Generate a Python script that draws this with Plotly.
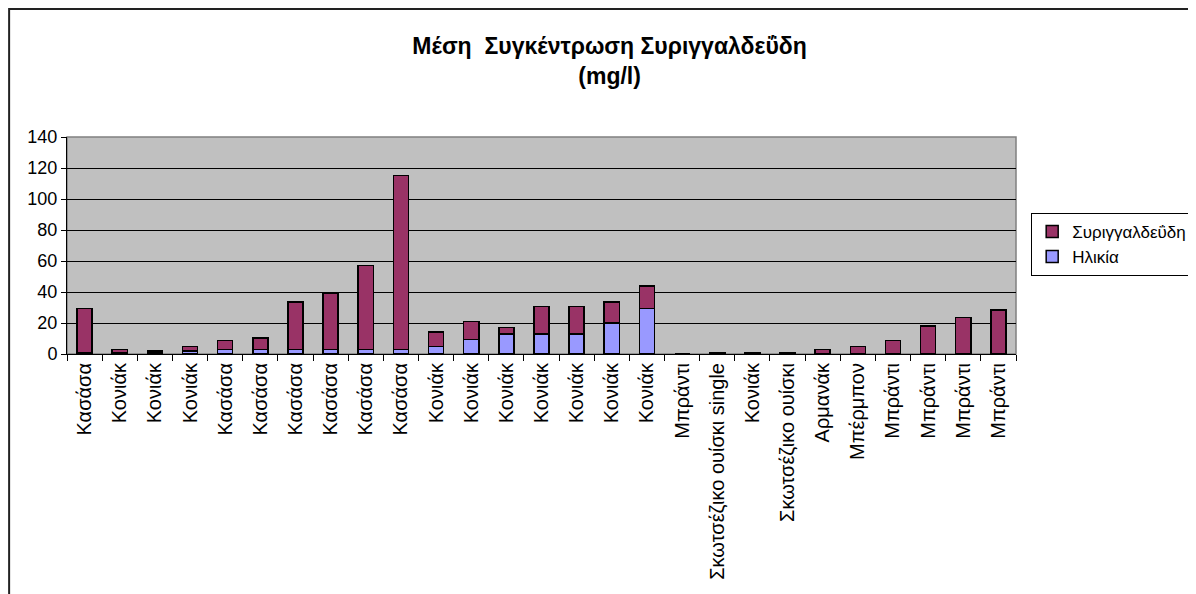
"""Μέση Συγκέντρωση Συριγγαλδεΰδη

Stacked bar chart (Excel style) of mean syringaldehyde
concentration per sample, with the age part at the bottom.
"""

import plotly.graph_objects as go

# sample types, one per bar (names repeat)
categories = ["Κασάσα", "Κονιάκ", "Κονιάκ", "Κονιάκ", "Κασάσα", "Κασάσα",
              "Κασάσα", "Κασάσα", "Κασάσα", "Κασάσα", "Κονιάκ", "Κονιάκ",
              "Κονιάκ", "Κονιάκ", "Κονιάκ", "Κονιάκ", "Κονιάκ", "Μπράντι",
              "Σκωτσέζικο ουίσκι single", "Κονιάκ", "Σκωτσέζικο ουίσκι",
              "Αρμανάκ", "Μπέρμπον", "Μπράντι", "Μπράντι", "Μπράντι",
              "Μπράντι"]

# values
age = [1, 0.5, 1, 2, 3, 3, 3, 3, 3, 3, 5, 9.5, 13, 13, 13, 20, 29.5,
       0, 0, 0, 0, 0, 0, 0, 0, 0, 0]
syringaldehyde = [28.5, 2.3, 0.8, 2.8, 5.6, 7.3, 30.4, 36, 54, 112.3, 9.2,
                  11.4, 4, 17.5, 17.5, 13.4, 14.5, 0, 0.8, 0.8, 0.8, 2.8,
                  4.7, 8.6, 18.1, 23.7, 28.4]

y_ticks = [0, 20, 40, 60, 80, 100, 120, 140]

positions = list(range(len(categories)))

fig = go.Figure()
fig.add_bar(x=positions, y=age, name="Ηλικία",
            marker=dict(color="#9999FF", line=dict(color="black", width=1.5)),
            width=0.43)
fig.add_bar(x=positions, y=syringaldehyde, name="Συριγγαλδεΰδη",
            marker=dict(color="#993366", line=dict(color="black", width=1.5)),
            width=0.43)

# page body has an 8px margin, so the figure starts at (8, 8)
fig.update_layout(
    barmode="stack",
    width=1196,
    height=594,
    margin={'l': 59, 'r': 186, 't': 129, 'b': 248},
    paper_bgcolor="white",
    plot_bgcolor="#C0C0C0",
    font=dict(family="Liberation Sans, Arial", size=18, color="black"),
    showlegend=True,
    legend=dict(
        x=1.016, y=0.65, xanchor="left", yanchor="top",
        bordercolor="black", borderwidth=1, bgcolor="white",
        font=dict(size=17), traceorder="reversed",
        itemwidth=30, tracegroupgap=0,
    ),
    title=dict(
        text="<b>Μέση  Συγκέντρωση Συριγγαλδεΰδη<br>(mg/l)</b>",
        x=0.503, xref="container", xanchor="center",
        y=0.923, yref="container", yanchor="top",
        font=dict(size=23),
    ),
)

fig.update_xaxes(
    range=[-0.5, len(categories) - 0.5],
    tickmode="array", tickvals=positions, ticktext=categories,
    tickangle=-90, ticks="", showgrid=False, tickfont=dict(size=20),
    showline=True, linecolor="black", linewidth=1,
    minor=dict(tickmode="array",
               tickvals=[p - 0.5 for p in positions] + [len(categories) - 0.5],
               ticks="outside", ticklen=6, tickcolor="black", showgrid=False),
    fixedrange=True,
)
fig.update_yaxes(
    range=[0, 140], tickmode="array", tickvals=y_ticks,
    ticks="outside", ticklen=5, tickcolor="black",
    showgrid=True, gridcolor="black", gridwidth=1,
    showline=True, linecolor="black", linewidth=1,
    zeroline=False, fixedrange=True,
)

# grey frame round the plot area and the outer chart border
fig.add_shape(type="rect", xref="paper", yref="paper", x0=0, x1=1, y0=0, y1=1,
              line=dict(color="#808080", width=1.5), layer="below")
fig.add_shape(type="rect", xref="paper", yref="paper",
              x0=(1 - 59) / 951, x1=(1220 - 59) / 951,
              y0=(346 - 620) / 217, y1=(346 - 1) / 217,
              line=dict(color="#222222", width=2))

fig.write_html("out.html")
